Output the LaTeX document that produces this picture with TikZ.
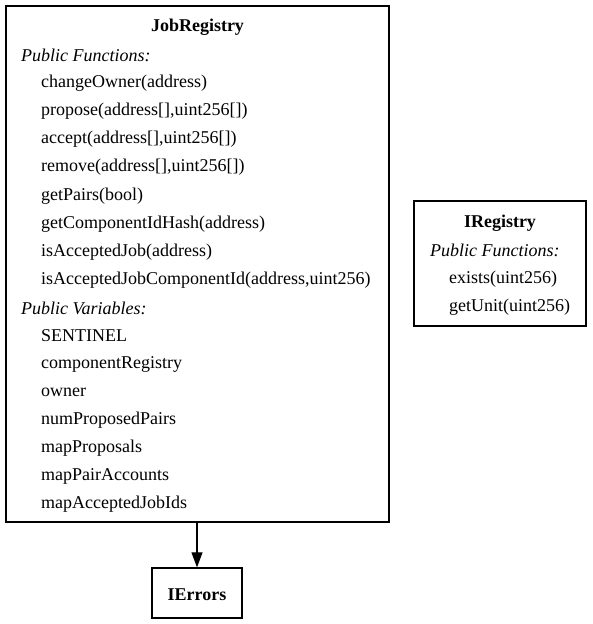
\documentclass[tikz,border=0pt]{standalone}
\usepackage{fontspec}
\setmainfont{Liberation Serif}
\usetikzlibrary{arrows.meta,positioning}

\begin{document}
\begin{tikzpicture}[x=1pt,y=-1pt,
   box/.style={draw, line width=1.3pt, inner sep=0pt},
   title/.style={font=\fontsize{18}{20}\selectfont\bfseries, inner sep=0pt},
   section/.style={font=\fontsize{18}{20}\selectfont\itshape, anchor=west, inner sep=0pt},
   member/.style={font=\fontsize{18}{20}\selectfont, anchor=west, inner sep=0pt}]
   \useasboundingbox (0,0) rectangle (592,624);
   % boxes
   \node[box, minimum width=383pt, minimum height=516pt] (jobreg) at (197.5,264) {};
   \node[box, minimum width=172pt, minimum height=125pt] (ireg) at (500,263.5) {};
   \node[box, minimum width=90pt, minimum height=50pt] (ierr) at (197,593) {};
   % JobRegistry
   \node[title] (jobregT) at (197.5,27) {JobRegistry};
   \node[section] (jobregF) at (21,55) {Public Functions:};
   \node[member] (f1) at (41,83) {changeOwner(address)};
   \node[member] (f2) at (41,111) {propose(address[],uint256[])};
   \node[member] (f3) at (41,139) {accept(address[],uint256[])};
   \node[member] (f4) at (41,167) {remove(address[],uint256[])};
   \node[member] (f5) at (41,196) {getPairs(bool)};
   \node[member] (f6) at (41,224) {getComponentIdHash(address)};
   \node[member] (f7) at (41,252) {isAcceptedJob(address)};
   \node[member] (f8) at (41,280) {isAcceptedJobComponentId(address,uint256)};
   \node[section] (jobregV) at (21,308) {Public Variables:};
   \node[member] (v1) at (41,336) {SENTINEL};
   \node[member] (v2) at (41,364) {componentRegistry};
   \node[member] (v3) at (41,392) {owner};
   \node[member] (v4) at (41,420) {numProposedPairs};
   \node[member] (v5) at (41,448) {mapProposals};
   \node[member] (v6) at (41,476) {mapPairAccounts};
   \node[member] (v7) at (41,504) {mapAcceptedJobIds};
   % IRegistry
   \node[title] (iregT) at (500,223) {IRegistry};
   \node[section] (iregF) at (430,250) {Public Functions:};
   \node[member] (g1) at (449,279) {exists(uint256)};
   \node[member] (g2) at (449,307) {getUnit(uint256)};
   % IErrors
   \node[title] (ierrT) at (197,595) {IErrors};
   \draw[line width=1.1pt, -{Triangle[length=15pt,width=11pt]}] (jobreg.south -| ierr.north) -- (ierr.north);
\end{tikzpicture}
\end{document}
